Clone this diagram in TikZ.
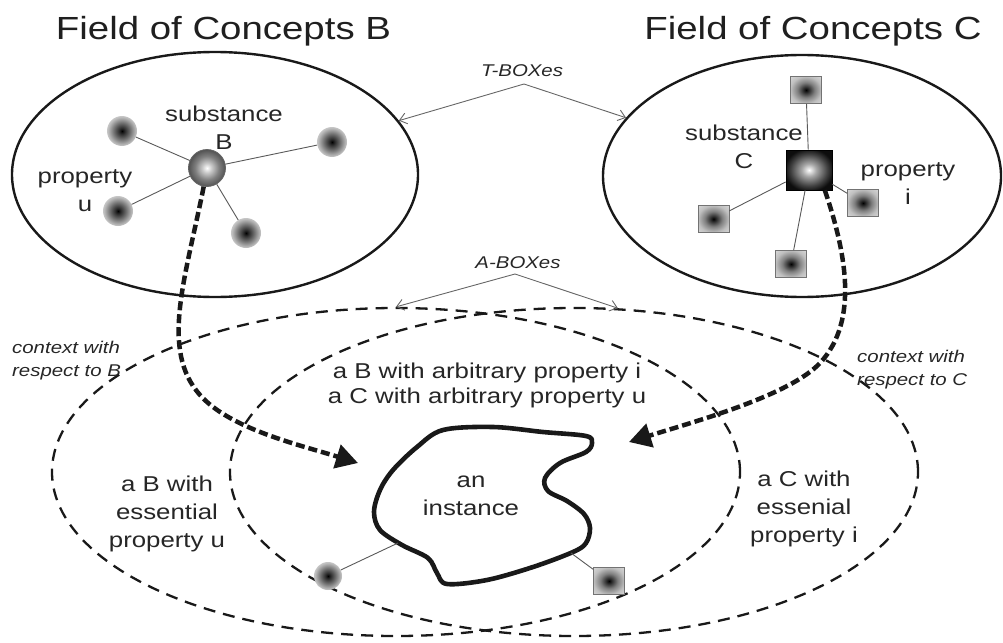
\documentclass[tikz,border=0pt]{standalone}
\usepackage{fontspec}
\setmainfont{Liberation Sans}[FakeStretch=1.2]
\usetikzlibrary{arrows.meta,shapes.geometric}

\pgfdeclareradialshading{dotsh}{\pgfpointorigin}{color(0bp)=(black); color(4bp)=(black!85); color(14bp)=(black!55); color(22bp)=(black!30); color(25bp)=(black!22); color(50bp)=(black!22)}
\pgfdeclareradialshading{sqsh}{\pgfpointorigin}{color(0bp)=(black); color(4bp)=(black!85); color(14bp)=(black!50); color(25bp)=(black!25); color(36bp)=(black!15); color(50bp)=(black!15)}
\pgfdeclareradialshading{sphsh}{\pgfpointorigin}{color(0bp)=(white); color(6bp)=(black!20); color(16bp)=(black!50); color(25bp)=(black!68); color(50bp)=(black!68)}
\pgfdeclareradialshading{bigsqsh}{\pgfpointorigin}{color(0bp)=(white); color(8bp)=(black!35); color(20bp)=(black!75); color(27bp)=(black!95); color(50bp)=(black!95)}

\begin{document}
\begin{tikzpicture}[x=1pt,y=-1pt,
  title/.style={font=\fontsize{32}{36}\selectfont, text=black!88, anchor=base, inner sep=0pt},
  body/.style={font=\fontsize{21.5}{28}\selectfont, text=black!85, align=center, anchor=base, inner sep=0pt},
  lab/.style={font=\fontsize{17}{23}\selectfont\itshape, text=black!85, align=left, anchor=base west, inner sep=0pt},
  field/.style={draw=black!90, ellipse, line width=2.4pt, inner sep=0pt},
  ctx/.style={draw=black!90, ellipse, line width=2.3pt, dash pattern=on 12pt off 8pt, inner sep=0pt},
  conn/.style={draw=black!65, line width=0.9pt},
  boxarrow/.style={draw=black!60, line width=0.9pt, -{Straight Barb[length=7pt,width=11pt]}},
  flow/.style={draw=black!90, line width=4.5pt, dash pattern=on 9pt off 4pt, -{Triangle[length=22pt,width=24pt]}},
  dot/.style={circle, minimum size=30pt, inner sep=0pt, shade, shading=dotsh},
  psq/.style={rectangle, minimum width=31pt, minimum height=27pt, inner sep=0pt, shade, shading=sqsh, draw=black!55, line width=0.6pt},
  blob/.style={draw=black!90, line width=4.6pt, line join=round}
]
\useasboundingbox (0,0) rectangle (1003,642);

% titles
\node[title] (tB) at (223.5,40) {Field of Concepts B};
\node[title] (tC) at (813,40) {Field of Concepts C};

% context ellipses
\node[ctx, minimum width=688pt, minimum height=328pt] (ctxB) at (396,472) {};
\node[ctx, minimum width=688pt, minimum height=328pt] (ctxC) at (574,472) {};

% field ellipses
\node[field, minimum width=406pt, minimum height=245pt] (EB) at (215,174.5) {};
\node[field, minimum width=398pt, minimum height=242pt] (EC) at (802,176) {};

% field B contents
\node[circle, minimum size=37pt, inner sep=0pt, shade, shading=sphsh, draw=black!60, line width=0.8pt] (sB) at (207,168) {};
\node[dot] (b1) at (122,131) {};
\node[dot] (b2) at (332,142) {};
\node[dot] (b3) at (118,211) {};
\node[dot] (b4) at (246,233) {};
\foreach \n in {b1,b2,b3,b4} \draw[conn] (sB) -- (\n);

% field C contents
\node[rectangle, minimum width=46pt, minimum height=40pt, inner sep=0pt, shade, shading=bigsqsh, draw=black, line width=0.6pt] (sC) at (809,170) {};
\node[psq] (c1) at (806,90) {};
\node[psq] (c2) at (713.5,219) {};
\node[psq] (c3) at (863,203) {};
\node[psq] (c4) at (791,264) {};
\foreach \n in {c1,c2,c3,c4} \draw[conn] (sC) -- (\n);

% T-BOX and A-BOX arrows
\coordinate (tb) at (524,84);
\draw[boxarrow] (tb) -- (EB);
\draw[boxarrow] (tb) -- (EC);
\node[lab, anchor=base] (tbl) at (522,77) {T-BOXes};
\coordinate (ab) at (515,274);
\draw[boxarrow] (ab) -- (ctxB.north);
\draw[boxarrow] (ab) -- (ctxC.75);
\node[lab, anchor=base] (abl) at (518,268) {A-BOXes};

% the instance
\draw[blob] plot[smooth cycle, tension=0.55] coordinates {(443,430) (493,427) (543,432) (586,436) (592,443) (586,452) (560,463) (545,478) (548,491) (567,501) (584,514) (590,528) (586,543) (573,552) (533,567) (487,580) (447,584) (437,573) (428,558) (402,545) (380,530) (374,512) (380,490) (393,470) (417,447)};
\coordinate (bl1) at (398,543);
\coordinate (bl2) at (571,553);
\node[dot, minimum size=28pt] (d5) at (328,576) {};
\node[psq] (s5) at (609,581) {};
\draw[conn] (d5) -- (bl1);
\draw[conn] (bl2) -- (s5);

% thick dashed flows
\coordinate (tipL) at (358,463);
\coordinate (tipR) at (629,442);
\draw[flow] (sB.260) .. controls (185,280) and (160,350) .. (200,395) .. controls (230,429) and (300,445) .. (tipL);
\draw[flow] (sC.-52) .. controls (845,250) and (860,320) .. (820,363) .. controls (790,395) and (700,420) .. (tipR);

% texts (anchor base = baseline of the last line)
\node[body] (subB) at (224,149.5) {substance\\B};
\node[body] (propU) at (85,211) {property\\u};
\node[body] (subC) at (744,168) {substance\\C};
\node[body] (propI) at (908,204) {property\\i};
\node[body] (inst) at (471,515) {an\\instance};
\node[body, font=\fontsize{21.5}{25}\selectfont] (mid) at (487,403) {a B with arbitrary property i\\a C with arbitrary property u};
\node[body] (essB) at (167,547) {a B with\\essential\\property u};
\node[body] (essC) at (804,542) {a C with\\essenial\\property i};
\node[lab] (ctxBl) at (12,376) {context with\\respect to B};
\node[lab] (ctxCl) at (857,385) {context with\\respect to C};
\end{tikzpicture}
\end{document}
